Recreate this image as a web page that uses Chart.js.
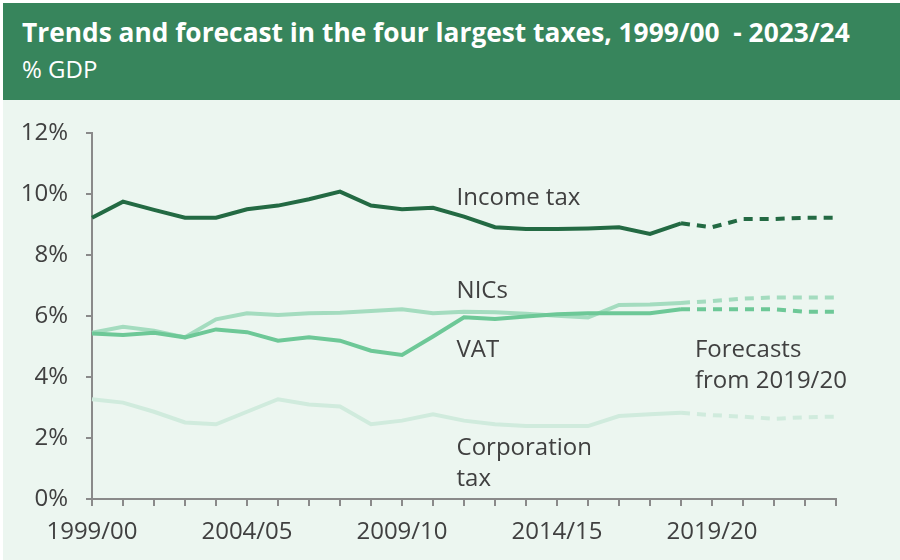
<!DOCTYPE html>
<html>
<head>
<meta charset="utf-8">
<script src="https://cdn.jsdelivr.net/npm/chart.js@4/dist/chart.umd.min.js"></script>
<style>
    html, body { margin: 0; padding: 0; background: #ffffff; }
    #wrap { position: absolute; left: 3px; top: 3px; width: 897px; height: 557px; background: #ecf6f0; }
    #header { position: absolute; left: 0; top: 0; width: 897px; height: 97px; background: #37855c; color: #ffffff; }
    #title { position: absolute; left: 19px; top: 11px; font-family: "Open Sans", sans-serif; font-weight: 700; font-size: 26.3px; white-space: pre; }
    #subtitle { position: absolute; left: 19px; top: 49px; font-family: "Open Sans", sans-serif; font-size: 24px; }
    #chartBox { position: absolute; left: 0; top: 97px; width: 897px; height: 460px; }
</style>
</head>
<body>
<div id="wrap">
    <div id="header">
        <div id="title">Trends and forecast in the four largest taxes, 1999/00  - 2023/24</div>
        <div id="subtitle">% GDP</div>
    </div>
    <div id="chartBox"><canvas id="taxChart"></canvas></div>
</div>
<script>
// fiscal years 1999/00 .. 2023/24
const years = ['1999/00', '2000/01', '2001/02', '2002/03', '2003/04', '2004/05', '2005/06', '2006/07',
    '2007/08', '2008/09', '2009/10', '2010/11', '2011/12', '2012/13', '2013/14', '2014/15', '2015/16',
    '2016/17', '2017/18', '2018/19', '2019/20', '2020/21', '2021/22', '2022/23', '2023/24'];

// % of GDP; values from index 19 onward are the forecast part
const incomeTax = [9.22, 9.75, 9.48, 9.22, 9.22, 9.50, 9.62, 9.83, 10.08, 9.62, 9.50, 9.55, 9.26,
    8.91, 8.85, 8.85, 8.87, 8.91, 8.69, 9.04, 8.91, 9.18, 9.18, 9.22, 9.22];
const nics = [5.45, 5.65, 5.52, 5.30, 5.89, 6.09, 6.03, 6.09, 6.11, 6.16, 6.22, 6.09, 6.14,
    6.12, 6.07, 6.01, 5.95, 6.36, 6.38, 6.43, 6.49, 6.57, 6.61, 6.61, 6.61];
const vat = [5.43, 5.38, 5.45, 5.30, 5.56, 5.47, 5.19, 5.30, 5.19, 4.86, 4.72, 5.33, 5.96,
    5.90, 5.98, 6.06, 6.09, 6.09, 6.09, 6.22, 6.22, 6.22, 6.22, 6.14, 6.14];
const corporationTax = [3.27, 3.16, 2.86, 2.51, 2.45, 2.86, 3.27, 3.10, 3.03, 2.45, 2.57, 2.78, 2.57,
    2.45, 2.39, 2.39, 2.39, 2.72, 2.78, 2.83, 2.75, 2.70, 2.63, 2.68, 2.70];

const yTicks = [0, 2, 4, 6, 8, 10, 12];
const forecastFrom = 19;

const colors = {
    income: '#236a43',
    nics: '#a4dcbf',
    vat: '#6dc897',
    corp: '#d0ebdd'
};

function splitSeries(values, color, order) {
    const actual = values.map((v, i) => i <= forecastFrom ? v : null);
    const forecast = values.map((v, i) => i >= forecastFrom ? v : null);
    const base = {
        borderColor: color,
        borderWidth: 4,
        pointRadius: 0,
        tension: 0,
        fill: false,
        order: order
    };
    return [
        Object.assign({ data: actual }, base),
        Object.assign({ data: forecast, borderDash: [9, 7] }, base)
    ];
}

// text labels next to the lines, anchored in data units
const seriesLabels = [
    { lines: ['Income tax'], x: 11.76, y: 9.87 },
    { lines: ['NICs'], x: 11.76, y: 6.82 },
    { lines: ['VAT'], x: 11.76, y: 4.89 },
    { lines: ['Forecasts', 'from 2019/20'], x: 19.45, y: 4.89 },
    { lines: ['Corporation', 'tax'], x: 11.76, y: 1.67 }
];

const labelPlugin = {
    id: 'seriesLabels',
    afterDatasetsDraw(chart) {
        const ctx = chart.ctx;
        const xs = chart.scales.x, ys = chart.scales.y;
        ctx.save();
        ctx.font = '24px "Open Sans", sans-serif';
        ctx.fillStyle = '#404040';
        ctx.textAlign = 'left';
        ctx.textBaseline = 'middle';
        seriesLabels.forEach(lab => {
            const px = xs.getPixelForValue(lab.x);
            const py = ys.getPixelForValue(lab.y);
            lab.lines.forEach((t, k) => ctx.fillText(t, px, py + k * 31));
        });
        ctx.restore();
    }
};

const axisFont = { family: '"Open Sans", sans-serif', size: 24 };

new Chart(document.getElementById('taxChart'), {
    type: 'line',
    data: {
        labels: years,
        datasets: [
            ...splitSeries(corporationTax, colors.corp, 4),
            ...splitSeries(nics, colors.nics, 3),
            ...splitSeries(vat, colors.vat, 2),
            ...splitSeries(incomeTax, colors.income, 1)
        ]
    },
    options: {
        responsive: true,
        maintainAspectRatio: false,
        animation: false,
        layout: { padding: { top: 33, right: 64, left: 0, bottom: 0 } },
        plugins: {
            legend: { display: false },
            tooltip: { enabled: false }
        },
        scales: {
            x: {
                offset: false,
                afterFit: scale => { scale.height = 61; },
                border: { color: '#8a8a8a', width: 2 },
                grid: { drawOnChartArea: false, drawTicks: true, tickLength: 7, color: '#8a8a8a', lineWidth: 2 },
                ticks: {
                    autoSkip: false,
                    maxRotation: 0,
                    padding: 12,
                    color: '#404040',
                    font: axisFont,
                    callback: (v, i) => i % 5 === 0 ? years[i] : ''
                }
            },
            y: {
                min: 0,
                max: 12,
                afterFit: scale => { scale.width = 89; },
                afterBuildTicks: scale => { scale.ticks = yTicks.map(v => ({ value: v })); },
                border: { color: '#8a8a8a', width: 2 },
                grid: { drawOnChartArea: false, drawTicks: true, tickLength: 6, color: '#8a8a8a', lineWidth: 2 },
                ticks: {
                    padding: 18,
                    color: '#404040',
                    font: axisFont,
                    callback: v => v + '%'
                }
            }
        }
    },
    plugins: [labelPlugin]
});
</script>
</body>
</html>
